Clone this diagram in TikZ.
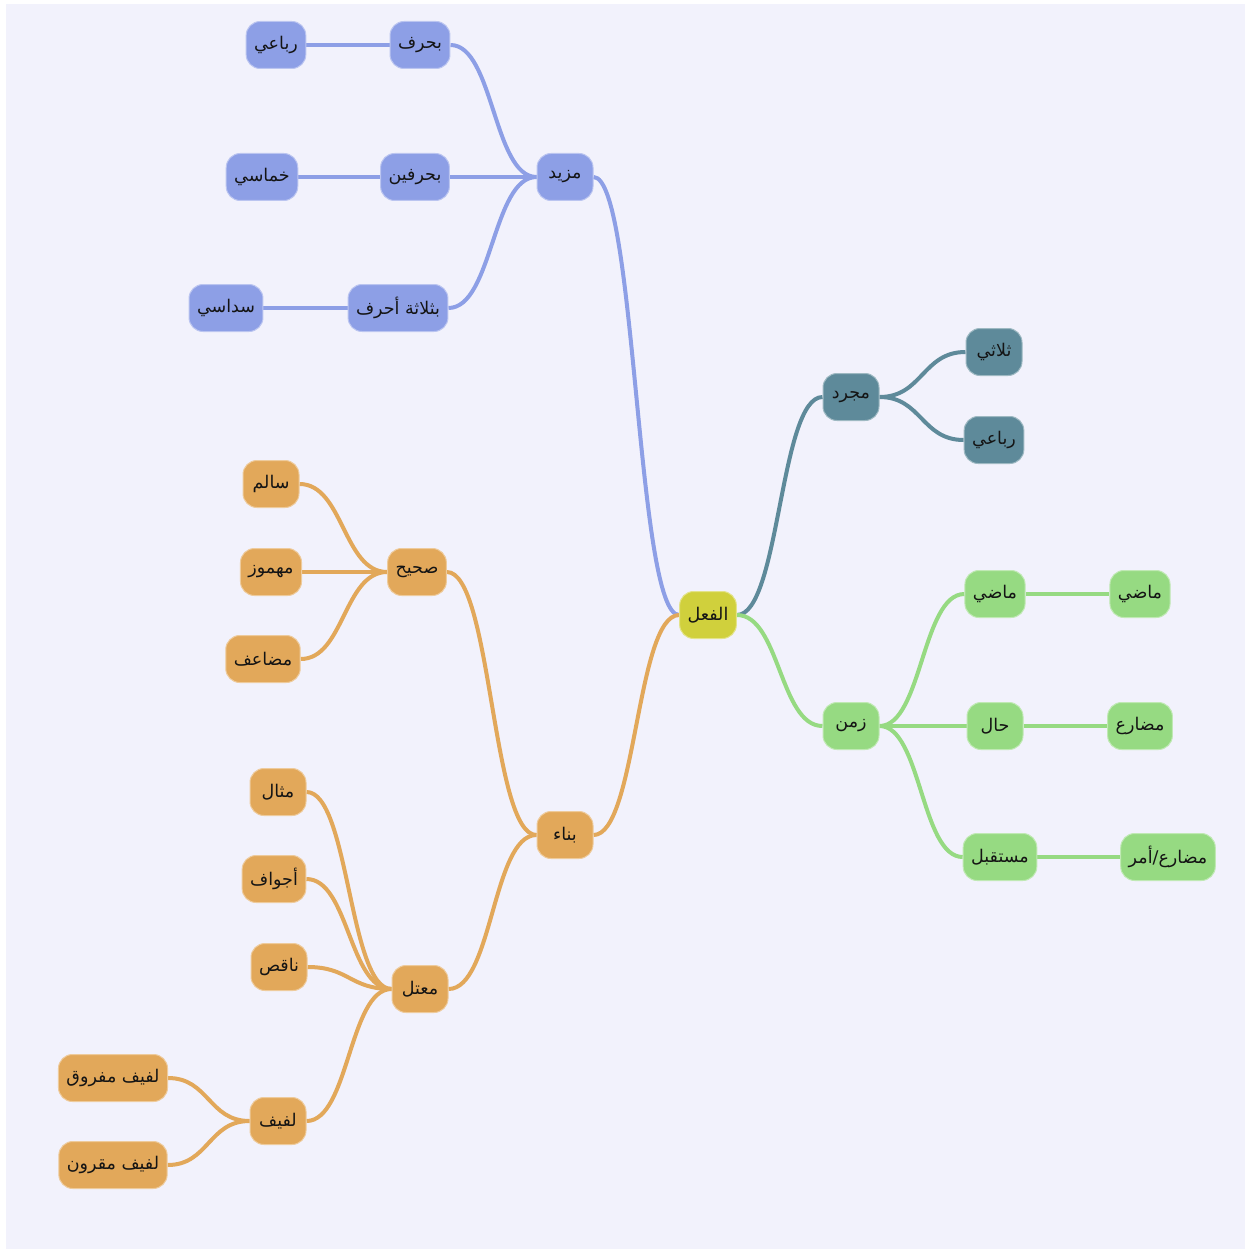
\documentclass[tikz,border=0pt]{standalone}
\usepackage{fontspec}
\newfontfamily\arabicfont[Script=Arabic]{DejaVu Sans}
\TeXXeTstate=1
\usetikzlibrary{calc}
\pgfdeclarelayer{bg}
\pgfdeclarelayer{edges}
\pgfsetlayers{bg,edges,main}
\definecolor{bgc}{RGB}{242,242,252}
\definecolor{cblue}{RGB}{141,159,230}
\definecolor{cteal}{RGB}{94,138,154}
\definecolor{cgreen}{RGB}{150,218,130}
\definecolor{corange}{RGB}{226,168,90}
\definecolor{croot}{RGB}{208,208,60}
\newcommand\artxt[1]{\arabicfont\beginR #1\endR}
\tikzset{
  box/.style={rounded corners=14pt, minimum height=47pt, minimum width=56pt,
    inner xsep=8pt, font=\fontsize{17.5}{20}\selectfont, text=black!92, line width=1pt},
  rootbox/.style={box, fill=croot, draw=croot!60!white},
  bluebox/.style={box, fill=cblue, draw=cblue!60!white},
  tealbox/.style={box, fill=cteal, draw=cteal!60!white},
  greenbox/.style={box, fill=cgreen, draw=cgreen!60!white},
  orangebox/.style={box, fill=corange, draw=corange!60!white},
  sc/.style={to path={let \p1=(\tikztostart), \p2=(\tikztotarget) in
    .. controls ({0.5*\x1+0.5*\x2},\y1) and ({0.5*\x1+0.5*\x2},\y2) .. (\tikztotarget)}},
  edge/.style={line width=4pt, sc},
}
\begin{document}
\begin{tikzpicture}[x=1pt,y=-1pt]
\useasboundingbox (0,0) rectangle (1245,1249);
\begin{pgfonlayer}{bg}
\fill[white] (0,0) rectangle (1245,1249);
\fill[bgc] (6,4) rectangle (1245,1249);
\end{pgfonlayer}

% root
\node[rootbox] (root) at (708,615) {\artxt{الفعل}};

% blue branch
\node[bluebox] (mazid) at (565,177) {\artxt{مزيد}};
\node[bluebox] (b1) at (420,45) {\artxt{بحرف}};
\node[bluebox] (r1) at (276,45) {\artxt{رباعي}};
\node[bluebox] (b2) at (415,177) {\artxt{بحرفين}};
\node[bluebox] (r2) at (262,177) {\artxt{خماسي}};
\node[bluebox] (b3) at (398,308) {\artxt{بثلاثة أحرف}};
\node[bluebox] (r3) at (226,308) {\artxt{سداسي}};

% teal branch
\node[tealbox] (mujarrad) at (851,397) {\artxt{مجرد}};
\node[tealbox] (thulathi) at (994,352) {\artxt{ثلاثي}};
\node[tealbox] (rubai) at (994,440) {\artxt{رباعي}};

% green branch
\node[greenbox] (zaman) at (851,726) {\artxt{زمن}};
\node[greenbox] (madi1) at (995,594) {\artxt{ماضي}};
\node[greenbox] (madi2) at (1140,594) {\artxt{ماضي}};
\node[greenbox] (hal) at (995,726) {\artxt{حال}};
\node[greenbox] (mudari) at (1140,726) {\artxt{مضارع}};
\node[greenbox] (mustaqbal) at (1000,857) {\artxt{مستقبل}};
\node[greenbox] (amr) at (1168,857) {\artxt{مضارع/أمر}};

% orange branch
\node[orangebox] (bina) at (565,835) {\artxt{بناء}};
\node[orangebox] (sahih) at (417,572) {\artxt{صحيح}};
\node[orangebox] (salim) at (271,484) {\artxt{سالم}};
\node[orangebox] (mahmuz) at (271,572) {\artxt{مهموز}};
\node[orangebox] (mudaaf) at (263,659) {\artxt{مضاعف}};
\node[orangebox] (mutal) at (420,989) {\artxt{معتل}};
\node[orangebox] (mithal) at (278,792) {\artxt{مثال}};
\node[orangebox] (ajwaf) at (274,879) {\artxt{أجواف}};
\node[orangebox] (naqis) at (279,967) {\artxt{ناقص}};
\node[orangebox] (lafif) at (278,1121) {\artxt{لفيف}};
\node[orangebox] (mafruq) at (113,1078) {\artxt{لفيف مفروق}};
\node[orangebox] (maqrun) at (113,1165) {\artxt{لفيف مقرون}};

\begin{pgfonlayer}{edges}
\begin{scope}[cblue]
\draw[edge] (root.west) to (mazid.east);
\draw[edge] (mazid.west) to (b1.east);
\draw[edge] (mazid.west) to (b2.east);
\draw[edge] (mazid.west) to (b3.east);
\draw[edge] (b1.west) to (r1.east);
\draw[edge] (b2.west) to (r2.east);
\draw[edge] (b3.west) to (r3.east);
\end{scope}
\begin{scope}[cteal]
\draw[edge] (root.east) to (mujarrad.west);
\draw[edge] (mujarrad.east) to (thulathi.west);
\draw[edge] (mujarrad.east) to (rubai.west);
\end{scope}
\begin{scope}[cgreen]
\draw[edge] (root.east) to (zaman.west);
\draw[edge] (zaman.east) to (madi1.west);
\draw[edge] (zaman.east) to (hal.west);
\draw[edge] (zaman.east) to (mustaqbal.west);
\draw[edge] (madi1.east) to (madi2.west);
\draw[edge] (hal.east) to (mudari.west);
\draw[edge] (mustaqbal.east) to (amr.west);
\end{scope}
\begin{scope}[corange]
\draw[edge] (root.west) to (bina.east);
\draw[edge] (bina.west) to (sahih.east);
\draw[edge] (bina.west) to (mutal.east);
\draw[edge] (sahih.west) to (salim.east);
\draw[edge] (sahih.west) to (mahmuz.east);
\draw[edge] (sahih.west) to (mudaaf.east);
\draw[edge] (mutal.west) to (mithal.east);
\draw[edge] (mutal.west) to (ajwaf.east);
\draw[edge] (mutal.west) to (naqis.east);
\draw[edge] (mutal.west) to (lafif.east);
\draw[edge] (lafif.west) to (mafruq.east);
\draw[edge] (lafif.west) to (maqrun.east);
\end{scope}
\end{pgfonlayer}
\end{tikzpicture}
\end{document}
